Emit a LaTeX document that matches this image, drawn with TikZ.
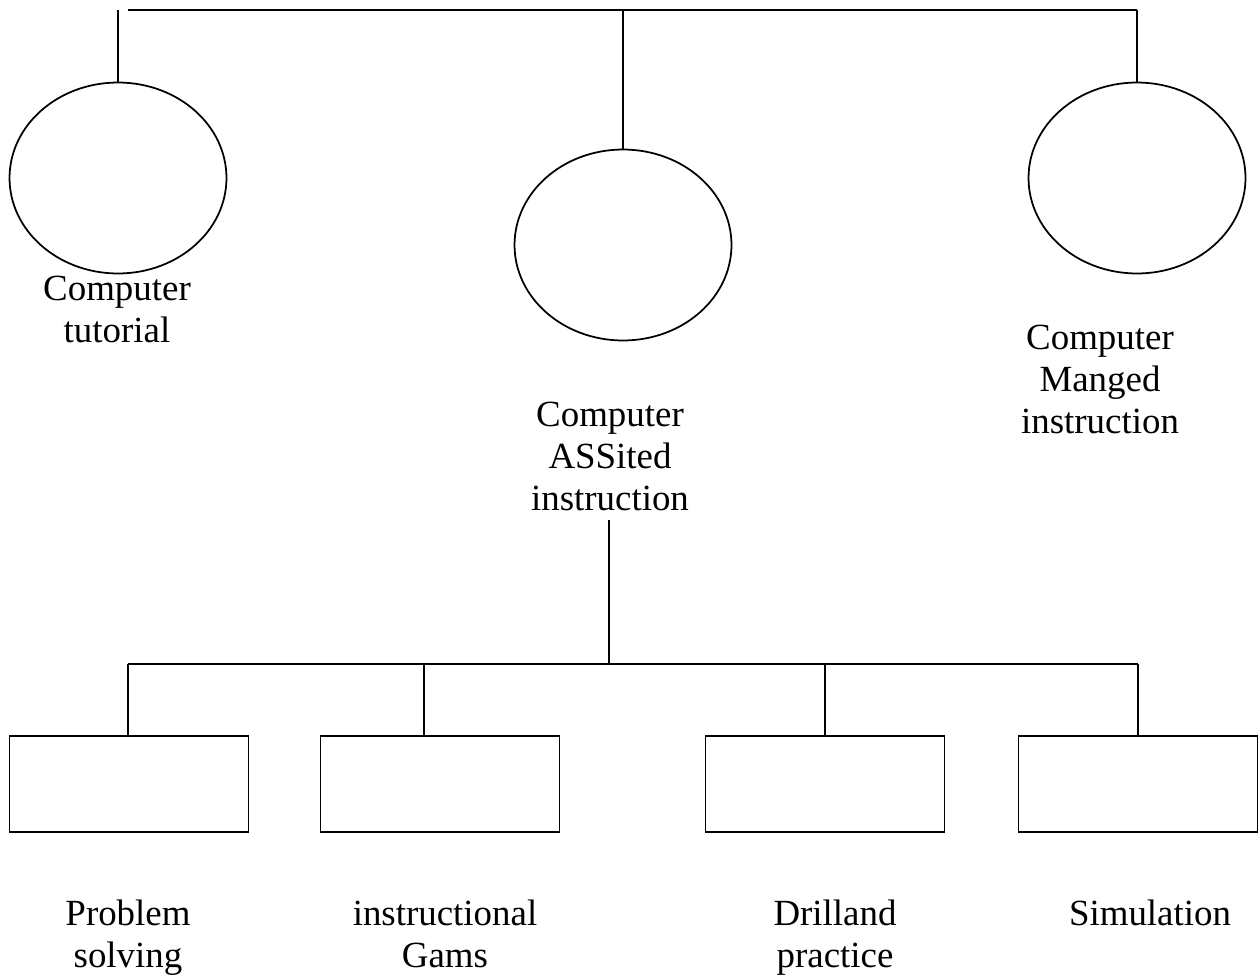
\documentclass[tikz,border=0pt]{standalone}
\usepackage{fontspec}
\setmainfont{Liberation Serif}
\usepackage{tikz}
\usetikzlibrary{positioning}
\usetikzlibrary{shapes.geometric}

\begin{document}
\begin{tikzpicture}[
  x=0.02cm, y=-0.02cm,
  font=\fontsize{21}{23.8}\selectfont,
  oval/.style={draw, line width=1pt, ellipse, inner sep=0pt, minimum width=4.34cm, minimum height=3.82cm},
  box/.style={draw, line width=1pt, rectangle, inner sep=0pt, minimum width=4.78cm, minimum height=1.92cm},
  label/.style={align=center, anchor=base, inner sep=0pt},
  bar/.style={line width=1.1pt},
  stub/.style={line width=0.8pt}
]
\useasboundingbox (0,0) rectangle (1260,977);

% Ovals
\node[oval] (tut) at (118,178) {};
\node[oval] (cai) at (623,245) {};
\node[oval] (cmi) at (1137,178) {};

% Oval labels (anchored on last baseline)
\node[label] (tuttext) at (117,342) {Computer\\tutorial};
\node[label] (caitext) at (610,510) {Computer\\ASSited\\instruction};
\node[label] (cmitext) at (1100,433) {Computer\\Manged\\instruction};

% Top bar
\coordinate (topl) at (128,10);
\coordinate (topr) at (1137,10);
\draw[bar] (topl) -- (topr);
\draw[stub] (tut.north) -- ++(0,-72);
\draw[stub] (cai.north) -- (cai.north |- topl);
\draw[stub] (cmi.north) -- (topr);

% Boxes
\node[box] (prob) at (129,784) {};
\node[box] (game) at (440,784) {};
\node[box] (drill) at (825,784) {};
\node[box] (sim) at (1138,784) {};

% Box labels
\node[label] (probtext) at (128,967) {Problem\\solving};
\node[label] (gametext) at (445,967) {instructional\\Gams};
\node[label] (drilltext) at (835,967) {Drilland\\practice};
\node[label] (simtext) at (1150,925) {Simulation};

% Lower bar
\coordinate (lowl) at (128,664);
\coordinate (lowr) at (1138,664);
\coordinate (caidown) at (609,520);
\draw[stub] (caidown) -- (caidown |- lowl);
\draw[bar] (lowl) -- (lowr);
\draw[stub] (prob.north -| lowl) -- (lowl);
\draw[stub] (424,736) -- (424,664);
\draw[stub] (drill.north) -- (drill.north |- lowl);
\draw[stub] (sim.north) -- (sim.north |- lowl);
\end{tikzpicture}
\end{document}
